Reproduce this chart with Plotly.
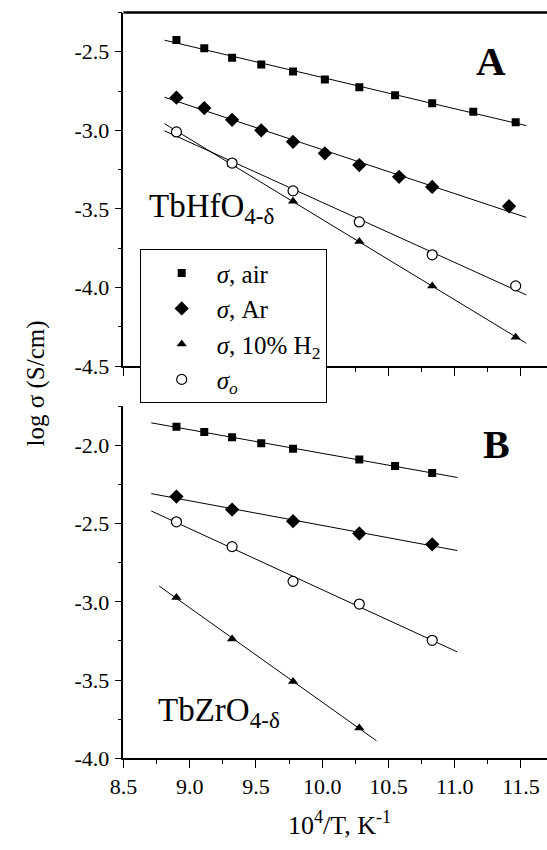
import numpy as np
import plotly.graph_objects as go

# ---------------- data ----------------
# Panel A: TbHfO4-d
a_air_x = [8.90, 9.11, 9.32, 9.54, 9.78, 10.02, 10.28, 10.55, 10.83, 11.14, 11.46]
a_air_y = [-2.425, -2.477, -2.538, -2.581, -2.625, -2.677, -2.725, -2.777, -2.827, -2.881, -2.948]
a_ar_x = [8.90, 9.11, 9.32, 9.54, 9.78, 10.02, 10.28, 10.58, 10.83, 11.41]
a_ar_y = [-2.792, -2.858, -2.933, -3.000, -3.073, -3.146, -3.221, -3.296, -3.360, -3.483]
a_h2_x = [8.90, 9.32, 9.78, 10.28, 10.83, 11.46]
a_h2_y = [-3.006, -3.219, -3.452, -3.708, -3.990, -4.317]
a_o_x = [8.90, 9.32, 9.78, 10.28, 10.83, 11.46]
a_o_y = [-3.010, -3.208, -3.385, -3.583, -3.792, -3.990]

# Panel B: TbZrO4-d
b_air_x = [8.90, 9.11, 9.32, 9.54, 9.78, 10.28, 10.55, 10.83]
b_air_y = [-1.881, -1.914, -1.948, -1.985, -2.021, -2.090, -2.132, -2.176]
b_ar_x = [8.90, 9.32, 9.78, 10.28, 10.83]
b_ar_y = [-2.327, -2.410, -2.484, -2.563, -2.632]
b_o_x = [8.90, 9.32, 9.78, 10.28, 10.83]
b_o_y = [-2.488, -2.647, -2.869, -3.014, -3.246]
b_h2_x = [8.90, 9.32, 9.78, 10.28]
b_h2_y = [-2.972, -3.238, -3.510, -3.807]

# x-extent of the linear fits
a_fit_span = [8.81, 11.54]
b_fit_span = [8.71, 11.02]
b_h2_fit_span = [8.77, 10.41]

# ticks
x_ticks = [8.5, 9.0, 9.5, 10.0, 10.5, 11.0, 11.5]
x_ticktext = ["8.5", "9.0", "9.5", "10.0", "10.5", "11.0", "11.5"]
ya_ticks = [-4.5, -4.0, -3.5, -3.0, -2.5]
ya_ticktext = ["-4.5", "-4.0", "-3.5", "-3.0", "-2.5"]
yb_ticks = [-4.0, -3.5, -3.0, -2.5, -2.0]
yb_ticktext = ["-4.0", "-3.5", "-3.0", "-2.5", "-2.0"]

legend_names = ["<i>σ</i>, air", "<i>σ</i>, Ar", "<i>σ</i>, 10% H<sub>2</sub>", "<i>σ<sub>o</sub></i>"]

# ---------------- figure ----------------
W, H = 547, 850
FONT = "Liberation Serif, Times New Roman, serif"
fig = go.Figure()


def fit_line(xs, ys, span, xa, ya):
    k, b = np.polyfit(xs, ys, 1)
    xx = np.array(span)
    fig.add_trace(go.Scatter(x=xx, y=k * xx + b, mode="lines",
                             line=dict(color="black", width=1),
                             showlegend=False, hoverinfo="skip",
                             xaxis=xa, yaxis=ya))


sym = dict(
    air=dict(symbol="square", size=8, color="black"),
    ar=dict(symbol="diamond", size=11, color="black"),
    h2=dict(symbol="triangle-up", size=9, color="black"),
    o=dict(symbol="circle", size=10, color="white", line=dict(color="black", width=1.2)),
)

# fit lines first (under markers)
for xs, ys in [(a_air_x, a_air_y), (a_ar_x, a_ar_y), (a_h2_x, a_h2_y), (a_o_x, a_o_y)]:
    fit_line(xs, ys, a_fit_span, "x", "y")
for xs, ys, sp in [(b_air_x, b_air_y, b_fit_span), (b_ar_x, b_ar_y, b_fit_span),
                   (b_o_x, b_o_y, b_fit_span), (b_h2_x, b_h2_y, b_h2_fit_span)]:
    fit_line(xs, ys, sp, "x2", "y2")

# markers panel A (legend)
for (xs, ys, key, name) in [(a_air_x, a_air_y, "air", legend_names[0]),
                            (a_ar_x, a_ar_y, "ar", legend_names[1]),
                            (a_h2_x, a_h2_y, "h2", legend_names[2]),
                            (a_o_x, a_o_y, "o", legend_names[3])]:
    fig.add_trace(go.Scatter(x=xs, y=ys, mode="markers", marker=sym[key], name=name,
                             xaxis="x", yaxis="y"))
# markers panel B
for (xs, ys, key) in [(b_air_x, b_air_y, "air"), (b_ar_x, b_ar_y, "ar"),
                      (b_o_x, b_o_y, "o"), (b_h2_x, b_h2_y, "h2")]:
    fig.add_trace(go.Scatter(x=xs, y=ys, mode="markers", marker=sym[key],
                             showlegend=False, xaxis="x2", yaxis="y2"))

x0 = 112.3 / W
xr = [8.5, 8.5 + (W - 112.3) / 136.0]
ya_dom = [1 - 371.7 / H, 1 - 12.7 / H]
yb_dom = [1 - 770.0 / H, 1 - 412.7 / H]

tickfont = dict(family=FONT, size=22, color="black")
common_x = dict(range=xr, domain=[x0, 1], showline=True, linecolor="black", linewidth=1.5,
                ticks="outside", ticklen=8, tickwidth=1.2, tickcolor="black",
                tickvals=x_ticks, ticktext=x_ticktext, tickfont=tickfont,
                minor=dict(tickmode="linear", tick0=8.5, dtick=0.25, ticks="outside",
                           ticklen=4, tickwidth=1.2, tickcolor="black"),
                showgrid=False, zeroline=False)
common_y = dict(showline=True, linecolor="black", linewidth=1.5,
                ticks="outside", ticklen=7, tickwidth=1.2, tickcolor="black",
                tickfont=tickfont, ticklabelstandoff=1,
                minor=dict(tickmode="linear", tick0=0, dtick=0.25, ticks="outside",
                           ticklen=4, tickwidth=1.2, tickcolor="black"),
                showgrid=False, zeroline=False)

fig.update_layout(
    width=W, height=H, margin=dict(l=0, r=0, t=0, b=0),
    paper_bgcolor="white", plot_bgcolor="white",
    font=dict(family=FONT, color="black"),
    xaxis=dict(**common_x, anchor="y", showticklabels=False),
    yaxis=dict(**common_y, domain=ya_dom, anchor="x", range=[-4.5, -2.25],
               tickvals=ya_ticks, ticktext=ya_ticktext),
    xaxis2=dict(**common_x, anchor="y2", showticklabels=True),
    yaxis2=dict(**common_y, domain=yb_dom, anchor="x2", range=[-4.0, -1.75],
                tickvals=yb_ticks, ticktext=yb_ticktext),
    legend=dict(x=129 / W, y=1 - 253 / H, xanchor="left", yanchor="top",
                bgcolor="white", bordercolor="black", borderwidth=1,
                font=dict(family=FONT, size=25, color="black"),
                itemwidth=60, indentation=6, tracegroupgap=0),
    showlegend=True,
)

# top frame line of panel A
fig.add_shape(type="line", xref="paper", yref="paper", x0=x0, x1=1,
              y0=ya_dom[1], y1=ya_dom[1], line=dict(color="black", width=2.5))

ann = [
    dict(text="<b>A</b>", x=490 / W, y=1 - 61.7 / H, font=dict(family=FONT, size=41)),
    dict(text="<b>B</b>", x=495 / W, y=1 - 451.7 / H, font=dict(family=FONT, size=40)),
    dict(text="TbHfO<sub>4-δ</sub>", x=137 / W, y=1 - 212 / H, xanchor="left",
         font=dict(family=FONT, size=33)),
    dict(text="TbZrO<sub>4-δ</sub>", x=146 / W, y=1 - 724 / H, xanchor="left",
         font=dict(family=FONT, size=33)),
    dict(text="log σ (S/cm)", x=23 / W, y=1 - 389 / H, textangle=-90,
         font=dict(family=FONT, size=25)),
    dict(text="10<sup>4</sup>/T, K<sup>-1</sup>", x=334 / W, y=1 - 836 / H,
         font=dict(family=FONT, size=26)),
]
for a in ann:
    a.setdefault("xanchor", "center")
    fig.add_annotation(xref="paper", yref="paper", showarrow=False, yanchor="middle",
                       font_color="black", **{k: v for k, v in a.items()})

fig.write_html("out.html")
